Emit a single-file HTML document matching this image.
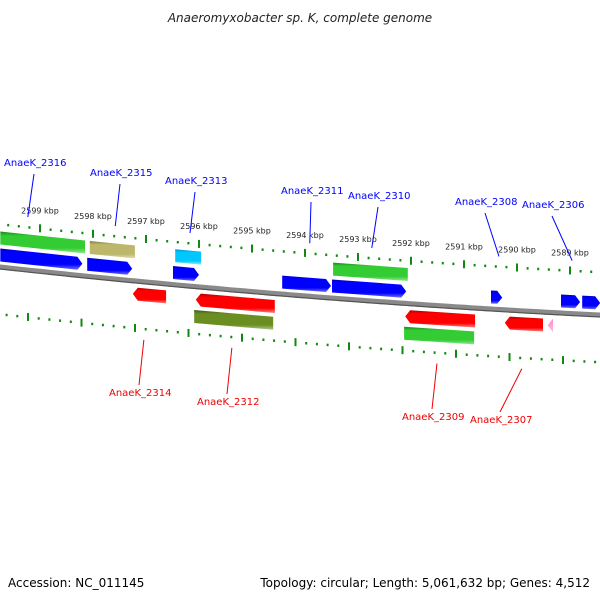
<!DOCTYPE html>
<html><head><meta charset="utf-8"><style>
html,body{margin:0;padding:0;background:#fff}
svg text{font-family:"DejaVu Sans","Liberation Sans",sans-serif}
</style></head><body>
<svg id="c" width="600" height="600" viewBox="0 0 600 600" xmlns="http://www.w3.org/2000/svg">
<defs>
<linearGradient id="bb" x1="0" y1="0" x2="0" y2="1"><stop offset="0" stop-color="#0000b0"/><stop offset="0.15" stop-color="#0000ff"/><stop offset="0.75" stop-color="#0000ff"/><stop offset="1" stop-color="#7070ff"/></linearGradient>
<linearGradient id="rr" x1="0" y1="0" x2="0" y2="1"><stop offset="0" stop-color="#b00000"/><stop offset="0.2" stop-color="#ff0000"/><stop offset="0.75" stop-color="#ff0000"/><stop offset="1" stop-color="#ff8080"/></linearGradient>
<linearGradient id="gg" x1="0" y1="0" x2="0" y2="1"><stop offset="0" stop-color="#1a8a1a"/><stop offset="0.2" stop-color="#33cc33"/><stop offset="0.75" stop-color="#33cc33"/><stop offset="1" stop-color="#90e890"/></linearGradient>
<linearGradient id="kk" x1="0" y1="0" x2="0" y2="1"><stop offset="0" stop-color="#807840"/><stop offset="0.2" stop-color="#bdb76b"/><stop offset="0.75" stop-color="#bdb76b"/><stop offset="1" stop-color="#e0dcb0"/></linearGradient>
<linearGradient id="oo" x1="0" y1="0" x2="0" y2="1"><stop offset="0" stop-color="#405a10"/><stop offset="0.2" stop-color="#6b8e23"/><stop offset="0.75" stop-color="#6b8e23"/><stop offset="1" stop-color="#b0c890"/></linearGradient>
<linearGradient id="cc" x1="0" y1="0" x2="0" y2="1"><stop offset="0" stop-color="#0090c0"/><stop offset="0.2" stop-color="#00c8ff"/><stop offset="0.75" stop-color="#00c8ff"/><stop offset="1" stop-color="#90e8ff"/></linearGradient>
<linearGradient id="pp" x1="0" y1="0" x2="0" y2="1"><stop offset="0" stop-color="#ff88cc"/><stop offset="1" stop-color="#ffc0e0"/></linearGradient>
</defs>
<text x="300" y="22" text-anchor="middle" font-size="12" font-style="italic" fill="#222">Anaeromyxobacter sp. K, complete genome</text>
<g id="g"></g>
<text x="8" y="587" font-size="12" fill="#000">Accession: NC_011145</text>
<text x="590" y="587" font-size="12" fill="#000" text-anchor="end">Topology: circular; Length: 5,061,632 bp; Genes: 4,512</text>
</svg>
<script>
const tickKbp=[2599,2598,2597,2596,2595,2594,2593,2592,2591,2590,2589];
const featStart=[2599.75,2598.06,2599.75,2598.11,2596.45,2596.49,2594.43,2593.47,2593.49,2590.49,2589.17,2588.77,2597.25,2596.06,2596.09,2592.11,2592.13,2590.23,2589.42];
const featEnd=[2598.15,2597.21,2598.2,2597.26,2595.96,2596.0,2593.51,2592.06,2592.09,2590.28,2588.81,2588.43,2596.62,2594.57,2594.6,2590.79,2590.81,2589.51,2589.32];
const featLane=[-29,-29,-12,-12,-29,-12,-12,-29,-12,-12,-12,-12,13,13,30,13,30,13,13];
const featColor=['gg','kk','bb','bb','cc','bb','bb','gg','bb','bb','bb','bb','rr','rr','oo','rr','gg','rr','pp'];
const featDir=[0,0,1,1,0,1,1,0,1,1,1,1,-1,-1,0,-1,0,-1,-1];
const geneNames=['AnaeK_2316','AnaeK_2315','AnaeK_2313','AnaeK_2311','AnaeK_2310','AnaeK_2308','AnaeK_2306','AnaeK_2314','AnaeK_2312','AnaeK_2309','AnaeK_2307'];
const geneKbp=[2599.23,2597.58,2596.17,2593.91,2592.74,2590.34,2588.96,2597.04,2595.38,2591.51,2589.91];
const geneUp=[1,1,1,1,1,1,1,0,0,0,0];
const labelX=[4,90,165,281,348,455,522,109,197,402,470];
const labelY=[166,176,184,194,199,205,208,396,405,420,423];
const NS='http://www.w3.org/2000/svg';
const g=document.getElementById('g');
function X(k){return 40+(2599-k)*53;}
function Y(x){return 267+0.11*x-0.00005*x*x;}
function mk(t,a){const e=document.createElementNS(NS,t);for(const k in a)e.setAttribute(k,a[k]);g.appendChild(e);return e;}
let d='';for(let x=-5;x<=605;x+=5){d+=(x<0?'M':'L')+x+','+Y(x).toFixed(1);}
let bb=mk('path',{d:d,stroke:'#8a8a8a',fill:'none','stroke-width':5});

let bb2=mk('path',{d:d,stroke:'#555',fill:'none','stroke-width':1.2,transform:'translate(0,2)'});

for(let k=2600.2;k>=2588.3;k-=0.2){
  const kr=Math.round(k*5)/5;const maj=Math.abs(kr-Math.round(kr))<0.01;
  const xu=X(kr),yu=Y(xu)-43;
  const xl=xu-12+(2599-kr)*0.5,yl=Y(xl)+47;
  [[xu,yu,'upper'],[xl,yl,'lower']].forEach(p=>{
    if(p[0]<-3||p[0]>603)return;
    const r=mk('rect',{x:p[0]-1,y:maj?p[1]-4:p[1]-1,width:2,height:maj?8:2.5,fill:'#118811'});
    
  });
}
tickKbp.forEach(k=>{const x=X(k);const t=mk('text',{x:x,y:Y(x)-58,'font-size':8,'text-anchor':'middle',fill:'#222'});t.textContent=k+' kbp';
});
for(let i=0;i<featStart.length;i++){
  const x1=X(featStart[i]),x2=X(featEnd[i]),c=featLane[i],h=6.5,dir=featDir[i];
  const y1=Y(x1)+c,y2=Y(x2)+c,a=5;
  let pts;
  if(dir===1){const xm=x2-a,ym=Y(xm)+c;pts=[[x1,y1-h],[xm,ym-h],[x2,y2],[xm,ym+h],[x1,y1+h]];}
  else if(dir===-1){const xm=x1+a,ym=Y(xm)+c;pts=[[x1,y1],[xm,ym-h],[x2,y2-h],[x2,y2+h],[xm,ym+h]];}
  else pts=[[x1,y1-h],[x2,y2-h],[x2,y2+h],[x1,y1+h]];
  const p=mk('polygon',{points:pts.map(q=>q[0].toFixed(1)+','+q[1].toFixed(1)).join(' '),fill:'url(#'+featColor[i]+')'});
  
}
for(let i=0;i<geneNames.length;i++){
  const x=X(geneKbp[i]);const up=geneUp[i];
  const ya=up?Y(x)-53:Y(x)+58;
  const col=up?'#0000ff':'#ee0000';
  const lx=labelX[i]+30,ly=up?labelY[i]+8:labelY[i]-11;
  const l=mk('line',{x1:lx,y1:ly,x2:x,y2:ya,stroke:col,'stroke-width':1});
  
  const t=mk('text',{x:labelX[i],y:labelY[i],'font-size':10,fill:col});t.textContent=geneNames[i];
  
}
</script>
</body></html>
